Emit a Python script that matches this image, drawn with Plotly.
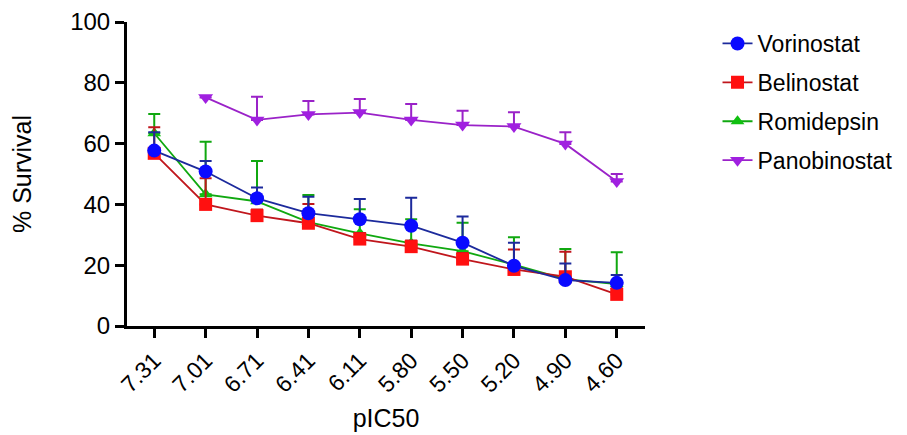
import plotly.graph_objects as go

categories = ["7.31", "7.01", "6.71", "6.41", "6.11", "5.80", "5.50", "5.20", "4.90", "4.60"]

vorinostat = [57.7, 50.8, 42.0, 37.1, 35.1, 33.0, 27.4, 19.8, 15.1, 14.2]
vorinostat_err = [6.0, 3.5, 3.6, 5.4, 6.7, 9.2, 8.6, 7.6, 5.5, 2.6]

belinostat = [56.8, 40.0, 36.3, 33.8, 28.6, 26.1, 22.0, 18.6, 16.2, 10.4]
belinostat_err = [8.6, 8.6, 2.0, 6.3, 2.0, 2.0, 2.0, 6.6, 8.2, 2.0]

romidepsin = [63.4, 43.3, 41.0, 34.2, 30.5, 27.2, 24.6, 20.2, 15.4, 13.8]
romidepsin_err = [6.3, 17.3, 13.3, 8.9, 7.9, 7.9, 9.4, 9.0, 9.9, 10.5]

panobinostat = [None, 75.2, 67.8, 69.6, 70.2, 67.8, 66.1, 65.6, 59.9, 47.5]
panobinostat_err = [0, 0.0, 7.6, 4.4, 4.5, 5.2, 4.7, 4.7, 3.8, 2.5]

FONT = "Arial, 'Liberation Sans', sans-serif"

series = [
    ("Vorinostat", vorinostat, vorinostat_err, "#0a0aff", "#1c2a9c", "circle", 14),
    ("Belinostat", belinostat, belinostat_err, "#ff1010", "#c0161c", "square", 13),
    ("Romidepsin", romidepsin, romidepsin_err, "#10c010", "#10a810", "triangle-up", 12),
    ("Panobinostat", panobinostat, panobinostat_err, "#a020e0", "#9a22c8", "triangle-down", 13),
]

fig = go.Figure()
x_idx = list(range(len(categories)))
# draw in reverse so Vorinostat is on top; legend order via legendrank
for rank, (name, vals, errs, mcol, lcol, sym, size) in reversed(list(enumerate(series))):
    fig.add_trace(go.Scatter(
        x=x_idx, y=vals, name=name, mode="lines+markers",
        legendgroup=name, legendrank=rank + 1,
        line=dict(color=lcol, width=1.8),
        marker=dict(color=mcol, symbol=sym, size=size, line=dict(width=0)),
        error_y=dict(type="data", array=errs, arrayminus=[0] * len(errs),
                     symmetric=False, color=lcol, thickness=2, width=6),
        cliponaxis=False,
    ))

fig.update_layout(
    width=907, height=435,
    margin=dict(l=119, r=270, t=14, b=117, autoexpand=False),
    paper_bgcolor="white", plot_bgcolor="white",
    font=dict(family=FONT, color="black", size=24),
    showlegend=True,
    legend=dict(x=1.14, y=1.0, xanchor="left", yanchor="top",
                traceorder="grouped", tracegroupgap=6,
                bgcolor="rgba(0,0,0,0)",
                font=dict(size=23, family=FONT)),
)

fig.update_xaxes(
    range=[-0.53, 9.55], tickmode="array", tickvals=x_idx, ticktext=categories,
    tickangle=-45, showline=True, linecolor="black", linewidth=3,
    ticks="outside", ticklen=9, tickwidth=3, tickcolor="black",
    showgrid=False, zeroline=False, tickfont=dict(size=23), automargin=False,
    title=dict(text="pIC50", font=dict(size=25), standoff=14),
)
fig.update_yaxes(
    range=[0, 100], tickvals=[0, 20, 40, 60, 80, 100],
    showline=True, linecolor="black", linewidth=3,
    ticks="outside", ticklen=9, tickwidth=3, tickcolor="black",
    showgrid=False, zeroline=False, tickfont=dict(size=24), automargin=False,
    title=dict(text="% Survival", font=dict(size=25), standoff=38),
)

fig.write_html("out.html")
